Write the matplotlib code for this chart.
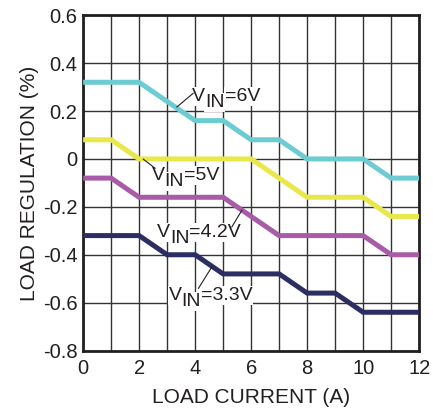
import matplotlib
matplotlib.use('Agg')
import matplotlib.pyplot as plt

plt.rcParams['font.family'] = ['Liberation Sans', 'DejaVu Sans']
plt.rcParams['axes.unicode_minus'] = False

# load current (A) and load regulation (%) per input voltage
x_6v = [0, 2, 4, 5, 6, 7, 8, 10, 11, 12]
y_6v = [0.32, 0.32, 0.16, 0.16, 0.08, 0.08, 0.0, 0.0, -0.08, -0.08]
x_5v = [0, 1, 2, 6, 8, 10, 11, 12]
y_5v = [0.08, 0.08, 0.0, 0.0, -0.16, -0.16, -0.24, -0.24]
x_42v = [0, 1, 2, 5, 7, 10, 11, 12]
y_42v = [-0.08, -0.08, -0.16, -0.16, -0.32, -0.32, -0.40, -0.40]
x_33v = [0, 2, 3, 4, 5, 7, 8, 9, 10, 12]
y_33v = [-0.32, -0.32, -0.40, -0.40, -0.48, -0.48, -0.56, -0.56, -0.64, -0.64]

x_ticks = [0, 2, 4, 6, 8, 10, 12]
y_ticks = [0.6, 0.4, 0.2, 0, -0.2, -0.4, -0.6, -0.8]
y_ticklabels = ['0.6', '0.4', '0.2', '0', '-0.2', '-0.4', '-0.6', '-0.8']

INK = '#231f20'

fig = plt.figure(figsize=(4.33, 4.11), dpi=100)
ax = fig.add_axes([0.192, 0.147, 0.776, 0.816])

lw = 3.6
for xs, ys, c in [(x_6v, y_6v, '#6ccbd3'), (x_5v, y_5v, '#e8e84a'),
                  (x_42v, y_42v, '#a85ba7'), (x_33v, y_33v, '#2b2d63')]:
    ax.plot(xs, ys, color=c, lw=lw, solid_joinstyle='miter',
            solid_capstyle='butt', zorder=3)

ax.set_xlim(0, 12)
ax.set_ylim(-0.8, 0.6)
ax.set_xticks(range(0, 13))
ax.set_xticklabels([str(v) if v in x_ticks else '' for v in range(0, 13)])
ax.set_yticks(y_ticks)
ax.set_yticklabels(y_ticklabels)
ax.tick_params(length=0, labelsize=14.5, colors=INK)
ax.tick_params(axis='x', pad=6)
ax.tick_params(axis='y', pad=4)
ax.grid(True, color='#333333', lw=1.0, zorder=1)
for s in ax.spines.values():
    s.set_linewidth(2.0)
    s.set_color(INK)

ax.set_xlabel('LOAD CURRENT (A)', fontsize=15, color=INK, labelpad=7)
ax.set_ylabel('LOAD REGULATION (%)', fontsize=15, color=INK, labelpad=3)

box = dict(facecolor='white', edgecolor='none', pad=0.6)


def vin_label(x, y, volts, lead):
    # "V" then a lowered full-size "IN" then "=xV", as on the datasheet
    kw = dict(fontsize=14, color=INK, zorder=4, bbox=box)
    t_v = ax.text(x, y, 'V', va='baseline', **kw)
    t_in = ax.annotate('IN', xy=(1, 0), xycoords=t_v, xytext=(0, -6),
                       textcoords='offset pixels', va='bottom', **kw)
    ax.annotate('=' + volts, xy=(1, 0), xycoords=t_in, xytext=(0, 6),
                textcoords='offset pixels', va='bottom', **kw)
    ax.plot(lead[0], lead[1], color=INK, lw=0.8, zorder=5)


vin_label(3.89, 0.242, '6V', ([3.35, 3.93], [0.217, 0.274]))
vin_label(2.45, -0.089, '5V', ([2.15, 2.57], [-0.001, -0.039]))
vin_label(2.63, -0.325, '4.2V', ([5.67, 5.31], [-0.214, -0.284]))
vin_label(3.05, -0.589, '3.3V', ([4.6, 4.12], [-0.45, -0.54]))

fig.savefig('out.png', dpi=100)
